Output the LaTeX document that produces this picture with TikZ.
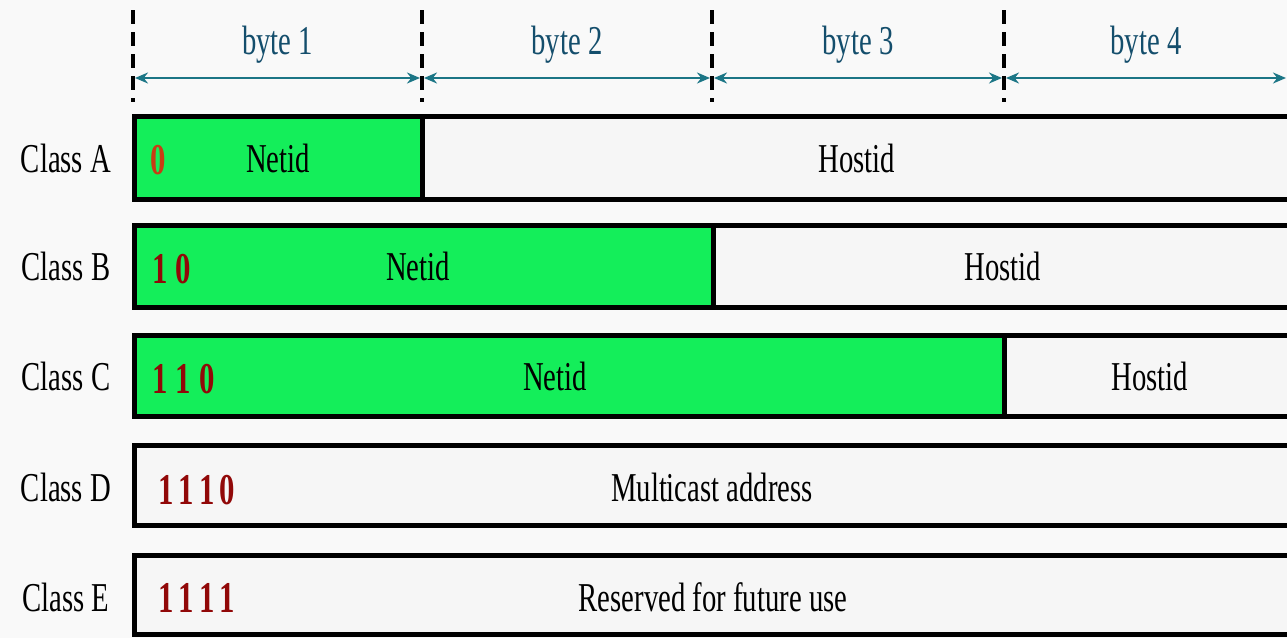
\documentclass[tikz,border=0pt]{standalone}
\usepackage{fontspec}
\setmainfont{Liberation Serif}[FakeStretch=0.7]
\usetikzlibrary{arrows.meta}
\usetikzlibrary{calc}

\definecolor{pagebg}{RGB}{249,249,249}
\definecolor{netgreen}{RGB}{20,238,90}
\definecolor{hostgrey}{RGB}{246,246,246}
\definecolor{bytecol}{RGB}{20,78,108}
\definecolor{arrowcol}{RGB}{28,118,134}
\definecolor{bitred}{RGB}{145,8,8}
\definecolor{bitorange}{RGB}{200,60,20}

\begin{document}
\begin{tikzpicture}[x=0.5pt, y=-0.5pt,
    lbl/.style={font=\fontsize{20.5}{24}\selectfont, text=black},
    bytelbl/.style={font=\fontsize{20.5}{24}\selectfont, text=bytecol},
    bits/.style={font=\fontsize{22}{26}\selectfont\bfseries, text=bitred, anchor=west, inner sep=0pt},
    field/.style={line width=2.5pt, draw=black},
    bytesep/.style={line width=1.6pt, dash pattern=on 7pt off 4pt},
    span/.style={{Stealth[length=6.5pt,width=5.5pt]}-{Stealth[length=6.5pt,width=5.5pt]}, line width=1.1pt, draw=arrowcol, shorten <=1pt, shorten >=1pt}]
    \clip (0,0) rectangle (1287,638);
    \fill[pagebg] (0,0) rectangle (1287,638);

    \foreach \i/\x in {0/133,1/422,2/712,3/1004} {
        \draw[bytesep] (\x,10) -- (\x,102);
        \coordinate (b\i) at (\x,78);
    }
    \coordinate (b4) at (1288,78);
    \draw[span] (b0) -- node[bytelbl, yshift=16.5pt] (byte1) {byte 1} (b1);
    \draw[span] (b1) -- node[bytelbl, yshift=16.5pt] (byte2) {byte 2} (b2);
    \draw[span] (b2) -- node[bytelbl, yshift=16.5pt] (byte3) {byte 3} (b3);
    \draw[span] (b3) -- node[bytelbl, yshift=16.5pt] (byte4) {byte 4} (b4);

    \filldraw[field, fill=netgreen] (134.5,116.5) rectangle (422,199.5);
    \filldraw[field, fill=hostgrey] (422,116.5) rectangle (1295,199.5);
    \node[lbl] (classA) at (66,158) {Class A};
    \node[bits, text=bitorange] (bitsA) at (150,160) {0};
    \node[lbl] (netA) at (278,158) {Netid};
    \node[lbl] (hostA) at (857,158) {Hostid};

    \filldraw[field, fill=netgreen] (134.5,225) rectangle (713,307);
    \filldraw[field, fill=hostgrey] (713,225) rectangle (1295,307);
    \node[lbl] (classB) at (66,266) {Class B};
    \node[bits] (bitsB) at (152,269) {1\kern4pt0};
    \node[lbl] (netB) at (418,266) {Netid};
    \node[lbl] (hostB) at (1003,266) {Hostid};

    \filldraw[field, fill=netgreen] (134.5,335) rectangle (1004,416);
    \filldraw[field, fill=hostgrey] (1004,335) rectangle (1295,416);
    \node[lbl] (classC) at (66,376) {Class C};
    \node[bits] (bitsC) at (152,379) {1\kern4pt1\kern4pt0};
    \node[lbl] (netC) at (555,376) {Netid};
    \node[lbl] (hostC) at (1150,376) {Hostid};

    \filldraw[field, fill=hostgrey] (134.5,445.5) rectangle (1295,525.5);
    \node[lbl] (classD) at (66,487) {Class D};
    \node[bits] (bitsD) at (158,490) {1\kern2.5pt1\kern2.5pt1\kern2.5pt0};
    \node[lbl] (multiD) at (712,487) {Multicast address};

    \filldraw[field, fill=hostgrey] (134.5,555) rectangle (1295,634);
    \node[lbl] (classE) at (66,597) {Class E};
    \node[bits] (bitsE) at (158,598) {1\kern2.5pt1\kern2.5pt1\kern2.5pt1};
    \node[lbl] (resE) at (713,597) {Reserved for future use};
\end{tikzpicture}
\end{document}
